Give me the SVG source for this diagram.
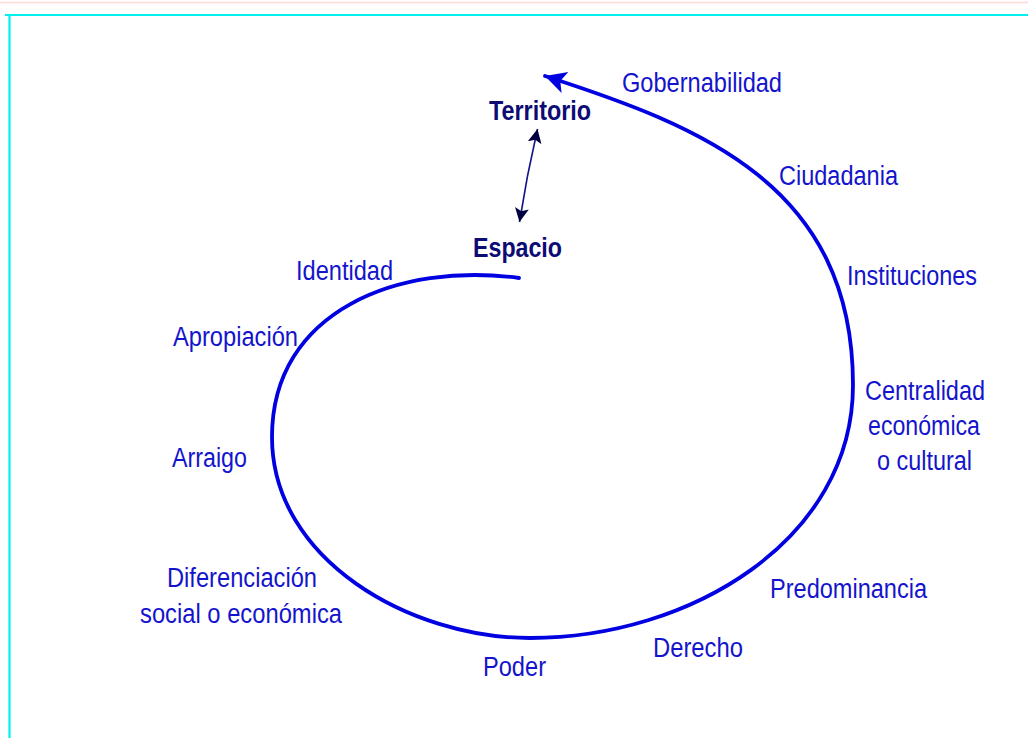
<svg xmlns="http://www.w3.org/2000/svg" width="1028" height="738" viewBox="0 0 1028 738">
<style>
  .lbl { font-family: "Liberation Sans", Arial, sans-serif; font-size: 27px; fill: #1414cc; }
  .key { font-family: "Liberation Sans", Arial, sans-serif; font-size: 27px; font-weight: bold; fill: #0c0c74; }
  .spiral { fill: none; stroke: #0000e0; stroke-width: 3.8; stroke-linecap: round; }
  .link { fill: none; stroke: #14148a; stroke-width: 1.6; }
</style>
<defs>
  <marker id="bigArrow" markerUnits="userSpaceOnUse" markerWidth="24" markerHeight="24" refX="21" refY="11" orient="auto">
    <path d="M0,0 L21,11 L0,22 L5,11 z" fill="#0000e0"/>
  </marker>
  <marker id="smallArrow" markerUnits="userSpaceOnUse" markerWidth="16" markerHeight="16" refX="14" refY="7" orient="auto">
    <path d="M0,0 L14,7 L0,14 L3,7 z" fill="#000040"/>
  </marker>
</defs>
<rect x="0" y="0" width="1028" height="738" fill="#ffffff"/>
<line x1="0" y1="2.5" x2="1028" y2="2.5" stroke="#ffd8d8" stroke-width="1.5"/>
<line x1="5" y1="15" x2="1028" y2="15" stroke="#00f0f0" stroke-width="2.2"/>
<line x1="9.5" y1="15" x2="9.5" y2="738" stroke="#00f0f0" stroke-width="2.2"/>

<g id="connectors">
  <path class="spiral" marker-end="url(#bigArrow)" d="M519,278 C400,262 272,310 272,437 C272,560 410,638 530,638 C690,638 853,540 853,385 C853,185 700,126 545,76"/>
  <line class="link" x1="527.5" y1="176" x2="537.5" y2="129" marker-end="url(#smallArrow)"/>
  <line class="link" x1="527.5" y1="176" x2="519.5" y2="222" marker-end="url(#smallArrow)"/>
</g>

<g id="territorio"><text class="key" x="489" y="120" textLength="102" lengthAdjust="spacingAndGlyphs">Territorio</text></g>
<g id="espacio"><text class="key" x="473" y="257" textLength="89" lengthAdjust="spacingAndGlyphs">Espacio</text></g>
<g id="gobernabilidad"><text class="lbl" x="622" y="92" textLength="160" lengthAdjust="spacingAndGlyphs">Gobernabilidad</text></g>
<g id="ciudadania"><text class="lbl" x="779" y="185" textLength="119" lengthAdjust="spacingAndGlyphs">Ciudadania</text></g>
<g id="instituciones"><text class="lbl" x="847" y="285" textLength="130" lengthAdjust="spacingAndGlyphs">Instituciones</text></g>
<g id="centralidad">
  <text class="lbl" x="865" y="400" textLength="120" lengthAdjust="spacingAndGlyphs">Centralidad</text>
  <text class="lbl" x="868" y="435" textLength="112" lengthAdjust="spacingAndGlyphs">económica</text>
  <text class="lbl" x="877" y="470" textLength="95" lengthAdjust="spacingAndGlyphs">o cultural</text>
</g>
<g id="predominancia"><text class="lbl" x="770" y="598" textLength="157" lengthAdjust="spacingAndGlyphs">Predominancia</text></g>
<g id="derecho"><text class="lbl" x="653" y="657" textLength="90" lengthAdjust="spacingAndGlyphs">Derecho</text></g>
<g id="poder"><text class="lbl" x="483" y="676" textLength="63" lengthAdjust="spacingAndGlyphs">Poder</text></g>
<g id="diferenciacion">
  <text class="lbl" x="167" y="587" textLength="150" lengthAdjust="spacingAndGlyphs">Diferenciación</text>
  <text class="lbl" x="140" y="623" textLength="202" lengthAdjust="spacingAndGlyphs">social o económica</text>
</g>
<g id="arraigo"><text class="lbl" x="172" y="467" textLength="75" lengthAdjust="spacingAndGlyphs">Arraigo</text></g>
<g id="apropiacion"><text class="lbl" x="173" y="346" textLength="125" lengthAdjust="spacingAndGlyphs">Apropiación</text></g>
<g id="identidad"><text class="lbl" x="296" y="280" textLength="97" lengthAdjust="spacingAndGlyphs">Identidad</text></g>
</svg>
